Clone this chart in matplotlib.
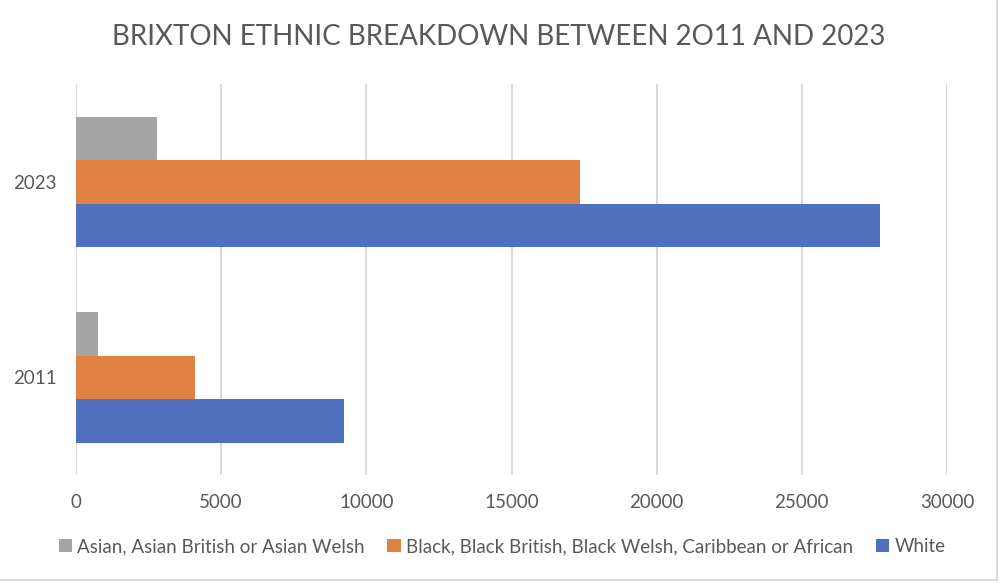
import numpy as np
import matplotlib.pyplot as plt
from matplotlib.lines import Line2D
from matplotlib.patches import Patch

years = ["2011", "2023"]
series_names = [
    "Asian, Asian British or Asian Welsh",
    "Black, Black British, Black Welsh, Caribbean or African",
    "White",
]
asian = [750, 2800]
black = [4100, 17370]
white = [9240, 27700]
x_ticks = [0, 5000, 10000, 15000, 20000, 25000, 30000]

colors = ["#A5A5A5", "#DF8244", "#4F71BE"]
text_col = "#595959"
grid_col = "#D9D9D9"

plt.rcParams["font.family"] = ["Lato", "DejaVu Sans"]

fig = plt.figure(figsize=(10, 5.83), dpi=100)
ax = fig.add_axes([0.076, 0.1852, 0.871, 0.6707])

y = np.arange(len(years))
h = 0.2225
# top to bottom inside a group: asian, black, white
for vals, off, c, name in zip([asian, black, white], [h, 0, -h], colors, series_names):
    ax.barh(y + off, vals, height=h, color=c, label=name, zorder=3)

ax.set_xlim(0, 30000)
ax.set_ylim(-0.5, 1.5)
ax.set_xticks(x_ticks)
ax.set_xticklabels([str(t) for t in x_ticks])
ax.set_yticks(y)
ax.set_yticklabels(years)
ax.tick_params(length=0, labelsize=13.5, colors=text_col)
ax.tick_params(axis="x", pad=14)
ax.tick_params(axis="y", pad=14)
ax.grid(axis="x", color=grid_col, linewidth=1.5, zorder=0)
for s in ax.spines.values():
    s.set_visible(False)

fig.text(0.499, 0.936, "BRIXTON ETHNIC BREAKDOWN BETWEEN 2O11 AND 2023",
         ha="center", va="center", fontsize=20, color=text_col)

handles = [Patch(facecolor=c, edgecolor="none") for c in colors]
leg = fig.legend(handles, series_names, loc="center", bbox_to_anchor=(0.502, 0.062),
                 ncol=3, frameon=False, fontsize=13.5, handlelength=0.7, handleheight=0.7,
                 handletextpad=0.3, columnspacing=1.2)
for t in leg.get_texts():
    t.set_color(text_col)

# chart border (right and bottom visible)
fig.add_artist(Line2D([0.997, 0.997], [0.005, 1], transform=fig.transFigure, color=grid_col, lw=1.5))
fig.add_artist(Line2D([0, 0.997], [0.005, 0.005], transform=fig.transFigure, color=grid_col, lw=1.5))

fig.savefig("out.png", dpi=100)
